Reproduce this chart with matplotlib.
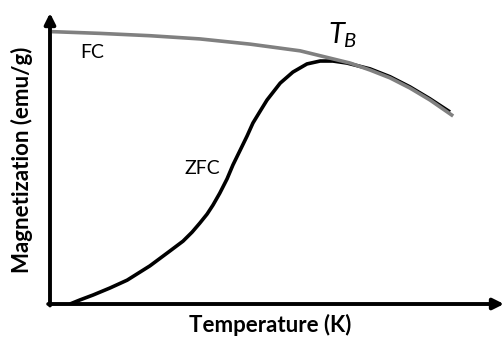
import matplotlib.pyplot as plt
import numpy as np

plt.rcParams['mathtext.fontset'] = 'custom'
plt.rcParams['mathtext.it'] = 'Lato:italic'
plt.rcParams['mathtext.rm'] = 'Lato'

# schematic values, arbitrary units (T: 0-100, M: 0-100)
fc_t = [0.4, 11.0, 22.0, 33.0, 44.1, 55.1, 60.6, 66.1, 70.5, 74.9, 79.3, 83.7, 88.8]
fc_m = [93.6, 93.0, 92.2, 91.1, 89.3, 87.0, 84.9, 82.8, 80.4, 77.7, 74.2, 70.1, 64.6]

zfc_t = [4.4, 6.6, 9.5, 13.2, 17.0, 22.0, 26.4, 29.3, 31.3, 33.0, 34.6, 35.9,
         37.4, 39.0, 40.3, 41.9, 43.4, 44.7, 46.3, 47.8, 50.7, 53.5, 56.6,
         59.5, 62.3, 65.4, 70.5, 74.9, 79.3, 83.7, 88.1]
zfc_m = [0.0, 1.4, 3.1, 5.5, 8.2, 13.1, 18.2, 21.6, 24.7, 27.8, 30.9, 34.0,
         38.1, 43.0, 47.8, 52.9, 57.7, 62.2, 66.3, 70.1, 75.9, 79.7, 82.5,
         83.5, 83.5, 82.8, 80.8, 78.1, 74.6, 70.5, 66.0]

fig = plt.figure(figsize=(5.04, 3.37), dpi=100)
ax = fig.add_axes([0.0992, 0.0979, 0.9008, 0.8635])
ax.set_xlim(0, 100)
ax.set_ylim(0, 100)
ax.axis('off')

ax.plot(zfc_t, zfc_m, color='black', lw=2.6, solid_capstyle='butt',
        solid_joinstyle='round', zorder=2)
ax.plot(fc_t, fc_m, color='#808080', lw=2.6, solid_capstyle='butt',
        solid_joinstyle='round', zorder=3)

# axes with arrows
arrow = dict(arrowstyle='-|>', lw=2.8, color='black', mutation_scale=16,
             shrinkA=0, shrinkB=0)
ax.annotate('', xy=(1.0, 0), xytext=(-0.004, 0), xycoords='axes fraction',
            arrowprops=arrow)
ax.annotate('', xy=(0, 1.0), xytext=(0, -0.005), xycoords='axes fraction',
            arrowprops=arrow)

font = 'Lato'
ax.text(9.2, 86.5, 'FC', fontsize=14, family=font, ha='center', va='center')
ax.text(33.5, 46.5, 'ZFC', fontsize=14, family=font, ha='center', va='center')
ax.text(64.5, 92.5, '$T_B$', fontsize=21, ha='center', va='center')

fig.text(0.536, 0.035, 'Temperature (K)', fontsize=16, fontweight='bold',
         family=font, ha='center', va='center')
fig.text(0.044, 0.525, 'Magnetization (emu/g)', fontsize=16, fontweight='bold',
         family=font, ha='center', va='center', rotation=90)

fig.savefig('out.png', dpi=100)
